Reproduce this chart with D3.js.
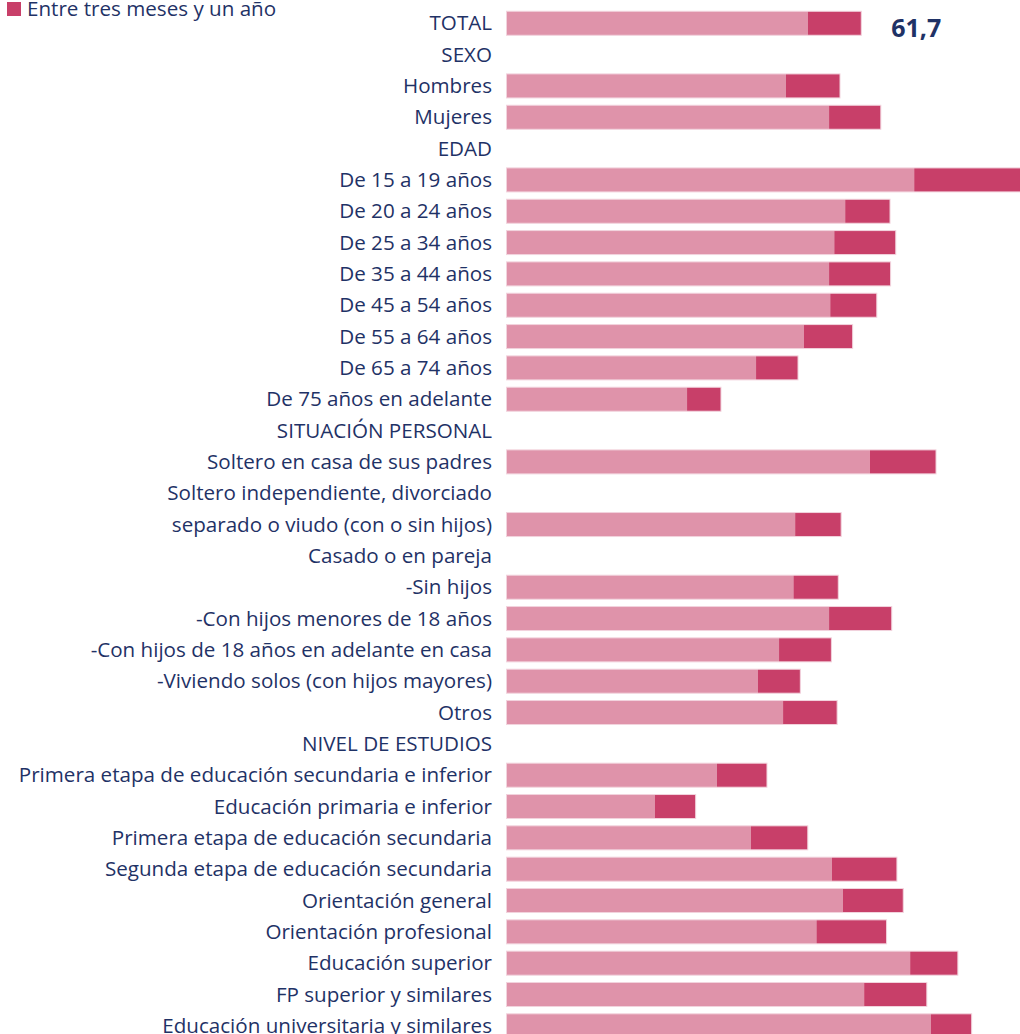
<!DOCTYPE html>
<html>
<head>
<meta charset="utf-8">
<style>
    body { margin: 0; background: #fff; }
    svg { display: block; font-family: 'Open Sans', Lato, sans-serif; }
    .label { font-size: 20.6px; fill: #1f3266; }
    .legend text { font-size: 20.6px; fill: #1f3266; }
</style>
</head>
<body>
<svg width="1020" height="1034"></svg>
<script src="https://d3js.org/d3.v7.min.js"></script>
<script>
    // categories, top to bottom (header rows have no bar)
    let categories = [
        "TOTAL", "SEXO", "Hombres", "Mujeres", "EDAD",
        "De 15 a 19 años", "De 20 a 24 años", "De 25 a 34 años", "De 35 a 44 años",
        "De 45 a 54 años", "De 55 a 64 años", "De 65 a 74 años", "De 75 años en adelante",
        "SITUACIÓN PERSONAL", "Soltero en casa de sus padres",
        "Soltero independiente, divorciado", "separado o viudo (con o sin hijos)",
        "Casado o en pareja", "-Sin hijos", "-Con hijos menores de 18 años",
        "-Con hijos de 18 años en adelante en casa", "-Viviendo solos (con hijos mayores)",
        "Otros", "NIVEL DE ESTUDIOS",
        "Primera etapa de educación secundaria e inferior", "Educación primaria e inferior",
        "Primera etapa de educación secundaria", "Segunda etapa de educación secundaria",
        "Orientación general", "Orientación profesional", "Educación superior",
        "FP superior y similares", "Educación universitaria y similares"
    ]

    // "Menos de tres meses" (light)
    let menosTres = [
        52.4, null, 48.6, 56.1, null,
        70.9, 58.9, 57.0, 56.1, 56.3, 51.7, 43.4, 31.4,
        null, 63.2, null, 50.2,
        null, 49.9, 56.1, 47.4, 43.7, 48.1,
        null, 36.6, 25.8, 42.5, 56.6, 58.5, 53.9, 70.2, 62.2, 73.8
    ]

    // "Entre tres meses y un año" (dark)
    let entreTres = [
        9.3, null, 9.4, 9.0, null,
        18.5, 7.8, 10.7, 10.7, 8.1, 8.5, 7.3, 5.9,
        null, 11.5, null, 8.0,
        null, 7.8, 10.9, 9.1, 7.4, 9.4,
        null, 8.7, 7.1, 9.9, 11.3, 10.5, 12.2, 8.3, 10.9, 7.1
    ]

    let totalLabel = "61,7"

    let colors = ["#df93aa", "#c83f69"]

    let svg = d3.select("svg")

    let x = d3.scaleLinear()
        .domain([0, 100])
        .range([506.5, 506.5 + 575])

    let y = d3.scaleBand()
        .domain(d3.range(categories.length))
        .range([7.6, 7.6 + categories.length * 31.33])
        .paddingInner(0.234)
        .paddingOuter(0.117)

    let rows = categories.map((c, i) => ({ i: i, name: c, a: menosTres[i], b: entreTres[i] }))

    // labels
    svg.append("g")
        .selectAll("text")
        .data(rows)
        .join("text")
        .attr("class", "label")
        .attr("x", 492)
        .attr("y", d => y(d.i) + y.bandwidth() / 2)
        .attr("dy", "0.35em")
        .attr("text-anchor", "end")
        .text(d => d.name)

    let barRows = rows.filter(d => d.a != null)

    // light segment
    svg.append("g")
        .selectAll("rect")
        .data(barRows)
        .join("rect")
        .attr("x", x(0))
        .attr("y", d => y(d.i))
        .attr("width", d => x(d.a) - x(0))
        .attr("height", y.bandwidth())
        .attr("fill", colors[0])

    // dark segment
    svg.append("g")
        .selectAll("rect")
        .data(barRows)
        .join("rect")
        .attr("x", d => x(d.a))
        .attr("y", d => y(d.i))
        .attr("width", d => x(d.a + d.b) - x(d.a))
        .attr("height", y.bandwidth())
        .attr("fill", colors[1])

    // thin outline round each bar
    svg.append("g")
        .selectAll("rect")
        .data(barRows)
        .join("rect")
        .attr("x", x(0))
        .attr("y", d => y(d.i))
        .attr("width", d => x(d.a + d.b) - x(0))
        .attr("height", y.bandwidth())
        .attr("fill", "none")
        .attr("stroke", "#f2d3dd")
        .attr("stroke-width", 1)

    // total value label
    svg.append("text")
        .attr("x", x(menosTres[0] + entreTres[0]) + 30)
        .attr("y", y(0) + y.bandwidth() / 2 + 13.4)
        .attr("font-size", "25px")
        .attr("font-weight", "bold")
        .attr("fill", "#1f3266")
        .text(totalLabel)

    // legend (only the visible item)
    let legend = svg.append("g").attr("class", "legend")
    legend.append("rect")
        .attr("x", 7).attr("y", 2)
        .attr("width", 14).attr("height", 14)
        .attr("fill", colors[1])
    legend.append("text")
        .attr("x", 27).attr("y", 9)
        .attr("dy", "0.35em")
        .text("Entre tres meses y un año")
</script>
</body>
</html>
